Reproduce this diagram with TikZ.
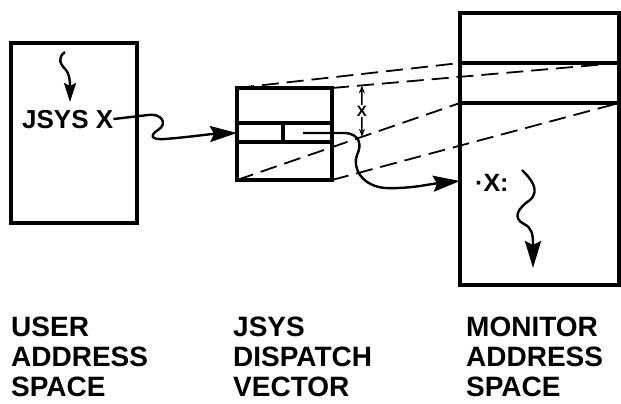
\documentclass[tikz,border=0pt]{standalone}
\usepackage{fontspec}
\setmainfont{Liberation Sans}
\usetikzlibrary{arrows.meta,calc}
\begin{document}
\begin{tikzpicture}[x=1pt,y=-1pt,
  boxshape/.style={draw,line width=3.4pt,rectangle,inner sep=0pt,outer sep=0pt,anchor=north west},
  slotline/.style={line width=3.2pt},
  guide/.style={line width=1.8pt,dash pattern=on 17pt off 8pt},
  flow/.style={line width=2.4pt,-{Stealth[length=27pt,width=16pt,inset=4pt]}},
  smallflow/.style={line width=2.4pt,-{Stealth[length=19pt,width=12pt,inset=3pt]}},
  dim/.style={line width=1.5pt,{Stealth[length=8pt,width=6pt]}-{Stealth[length=8pt,width=6pt]}},
  caption/.style={anchor=north west,inner sep=0pt,align=left,font=\fontsize{28}{30}\selectfont\bfseries}
]
\useasboundingbox (0,0) rectangle (621,404);
% boxes
\node[boxshape,minimum width=126pt,minimum height=180pt] (user) at (11,43) {};
\node[boxshape,minimum width=95pt,minimum height=92pt] (vec) at (237,88) {};
\node[boxshape,minimum width=159pt,minimum height=272pt] (mon) at (460,13) {};
% vector slots
\coordinate (vL1) at (237,123); \coordinate (vR1) at (332,123);
\coordinate (vL2) at (237,142); \coordinate (vR2) at (332,142);
\coordinate (vD1) at (283,123); \coordinate (vD2) at (283,142);
\draw[slotline] (vL1) -- (vR1);
\draw[slotline] (vL2) -- (vR2);
\draw[slotline] (vD1) -- (vD2);
% monitor slot
\coordinate (slotTL) at (460,63); \coordinate (slotTR) at (619,63);
\coordinate (slotBL) at (460,103); \coordinate (slotBR) at (619,103);
\draw[slotline] (slotTL) -- (slotTR);
\draw[slotline] (slotBL) -- (slotBR);
% dashed guides
\draw[guide] (vec.north west) -- (slotTL);
\draw[guide] (vec.north east) -- (slotTR);
\draw[guide] (vec.south west) -- (slotBL);
\draw[guide] (vec.south east) -- (slotBR);
% dimension
\coordinate (dimTop) at ($(vec.north east)!0.104!(slotTR)$);
\coordinate (dimBot) at ($(vec.south west)!0.5605!(slotBL)$);
\draw[dim] (dimTop) -- (dimBot);
\node[inner sep=1pt,fill=white,font=\fontsize{15}{15}\selectfont\bfseries] (dimX) at ($(dimTop)!0.5!(dimBot)$) {X};
% texts
\node[anchor=base west,inner sep=0pt,font=\fontsize{26}{26}\selectfont\bfseries] (jsysx) at (22,128) {JSYS X};
\node[anchor=base west,inner sep=0pt,font=\fontsize{25}{25}\selectfont\bfseries] (xlab) at (475,191) {·X:};
% flows
\coordinate (uStart) at (65,52);
\draw[smallflow] (uStart) .. controls (57,58) and (60,64) .. (66,70) .. controls (69,74) and (70,79) .. (70,102);
\draw[flow] (jsysx.east) -- (148,115) .. controls (162,113) and (168,124) .. (158,130) .. controls (150,135) and (150,140) .. (165,139) .. controls (190,137) and (210,134) .. (vec.west |- 0,133);
\coordinate (vStart) at (303,133);
\draw[flow] (vStart) -- (345,133) .. controls (360,134) and (362,145) .. (357,155) .. controls (352,168) and (362,186) .. (385,188) .. controls (410,189) and (430,184) .. (mon.west |- 0,181);
\coordinate (mStart) at (522,170);
\draw[flow] (mStart) .. controls (530,178) and (541,190) .. (530,200) .. controls (518,208) and (512,218) .. (524,224) .. controls (532,228) and (533,234) .. (533,268);
% captions
\node[caption] (cap1) at (11,317) {USER\\ADDRESS\\SPACE};
\node[caption] (cap2) at (233,317) {JSYS\\DISPATCH\\VECTOR};
\node[caption] (cap3) at (466,317) {MONITOR\\ADDRESS\\SPACE};
\end{tikzpicture}
\end{document}
